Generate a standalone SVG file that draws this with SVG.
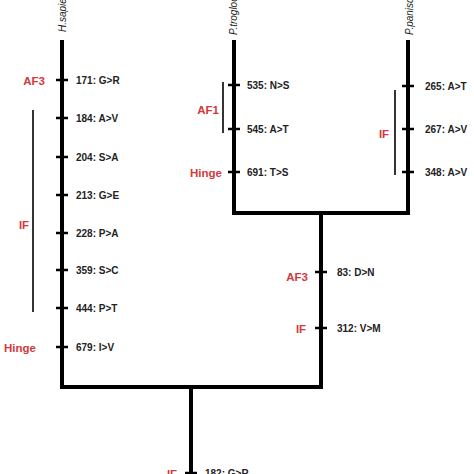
<svg xmlns="http://www.w3.org/2000/svg" width="474" height="474" viewBox="0 0 474 474">
<style>
.br{stroke:#000;stroke-width:4;fill:none;stroke-linecap:square}
.tk{stroke:#000;stroke-width:2.5}
.bk{stroke:#000;stroke-width:1.6}
.m{font-family:"Liberation Sans",Arial,sans-serif;font-weight:bold;font-size:10px;fill:#222}
.r{font-family:"Liberation Sans",Arial,sans-serif;font-weight:bold;font-size:11.5px;fill:#d2393c;text-anchor:middle}
.sp{font-family:"Liberation Sans",Arial,sans-serif;font-style:italic;font-size:10px;fill:#222}
</style>
<rect width="474" height="474" fill="#fff"/>
<g id="connectors">
<path class="br" d="M62,42 V387 H321 V213"/>
<path class="br" d="M234,42 V213 H408 V42"/>
<path class="br" d="M191,387 V476"/>
<line class="bk" x1="33" y1="110" x2="33" y2="312"/>
<line class="bk" x1="223" y1="82" x2="223" y2="133"/>
<line class="bk" x1="395" y1="90" x2="395" y2="175"/>
</g>
<g id="hsapiens">
<text class="sp" transform="translate(66,32) rotate(-90)">H.sapiens</text>
<g class="tk"><line x1="56" y1="80" x2="68" y2="80"/><line x1="56" y1="118" x2="68" y2="118"/><line x1="56" y1="157" x2="68" y2="157"/><line x1="56" y1="195" x2="68" y2="195"/><line x1="56" y1="233" x2="68" y2="233"/><line x1="56" y1="270" x2="68" y2="270"/><line x1="56" y1="308" x2="68" y2="308"/><line x1="56" y1="347" x2="68" y2="347"/></g>
<text class="m" x="76" y="84">171: G&gt;R</text>
<text class="m" x="76" y="122">184: A&gt;V</text>
<text class="m" x="76" y="161">204: S&gt;A</text>
<text class="m" x="76" y="199">213: G&gt;E</text>
<text class="m" x="76" y="237">228: P&gt;A</text>
<text class="m" x="76" y="274">359: S&gt;C</text>
<text class="m" x="76" y="312">444: P&gt;T</text>
<text class="m" x="76" y="351">679: I&gt;V</text>
<text class="r" x="34" y="85">AF3</text>
<text class="r" x="24" y="229">IF</text>
<text class="r" x="20" y="352">Hinge</text>
</g>
<g id="ptroglodytes">
<text class="sp" transform="translate(237,35) rotate(-90)">P.troglodytes</text>
<g class="tk"><line x1="228" y1="85" x2="240" y2="85"/><line x1="228" y1="129" x2="240" y2="129"/><line x1="228" y1="172" x2="240" y2="172"/></g>
<text class="m" x="247" y="89">535: N&gt;S</text>
<text class="m" x="247" y="133">545: A&gt;T</text>
<text class="m" x="247" y="176">691: T&gt;S</text>
<text class="r" x="208" y="114">AF1</text>
<text class="r" x="206" y="177">Hinge</text>
</g>
<g id="ppaniscus">
<text class="sp" transform="translate(413,35) rotate(-90)">P.paniscus</text>
<g class="tk"><line x1="402" y1="86" x2="414" y2="86"/><line x1="402" y1="129" x2="414" y2="129"/><line x1="402" y1="172" x2="414" y2="172"/></g>
<text class="m" x="425" y="90">265: A&gt;T</text>
<text class="m" x="425" y="133">267: A&gt;V</text>
<text class="m" x="425" y="176">348: A&gt;V</text>
<text class="r" x="384" y="138">IF</text>
</g>
<g id="pan">
<g class="tk"><line x1="315" y1="272" x2="327" y2="272"/><line x1="315" y1="328" x2="327" y2="328"/></g>
<text class="m" x="337" y="276">83: D&gt;N</text>
<text class="m" x="337" y="332">312: V&gt;M</text>
<text class="r" x="297" y="281">AF3</text>
<text class="r" x="301" y="333">IF</text>
</g>
<g id="root">
<line class="tk" x1="185" y1="473" x2="197" y2="473"/>
<text class="m" x="205" y="477">182: G&gt;R</text>
<text class="r" x="172" y="478">IF</text>
</g>
</svg>
